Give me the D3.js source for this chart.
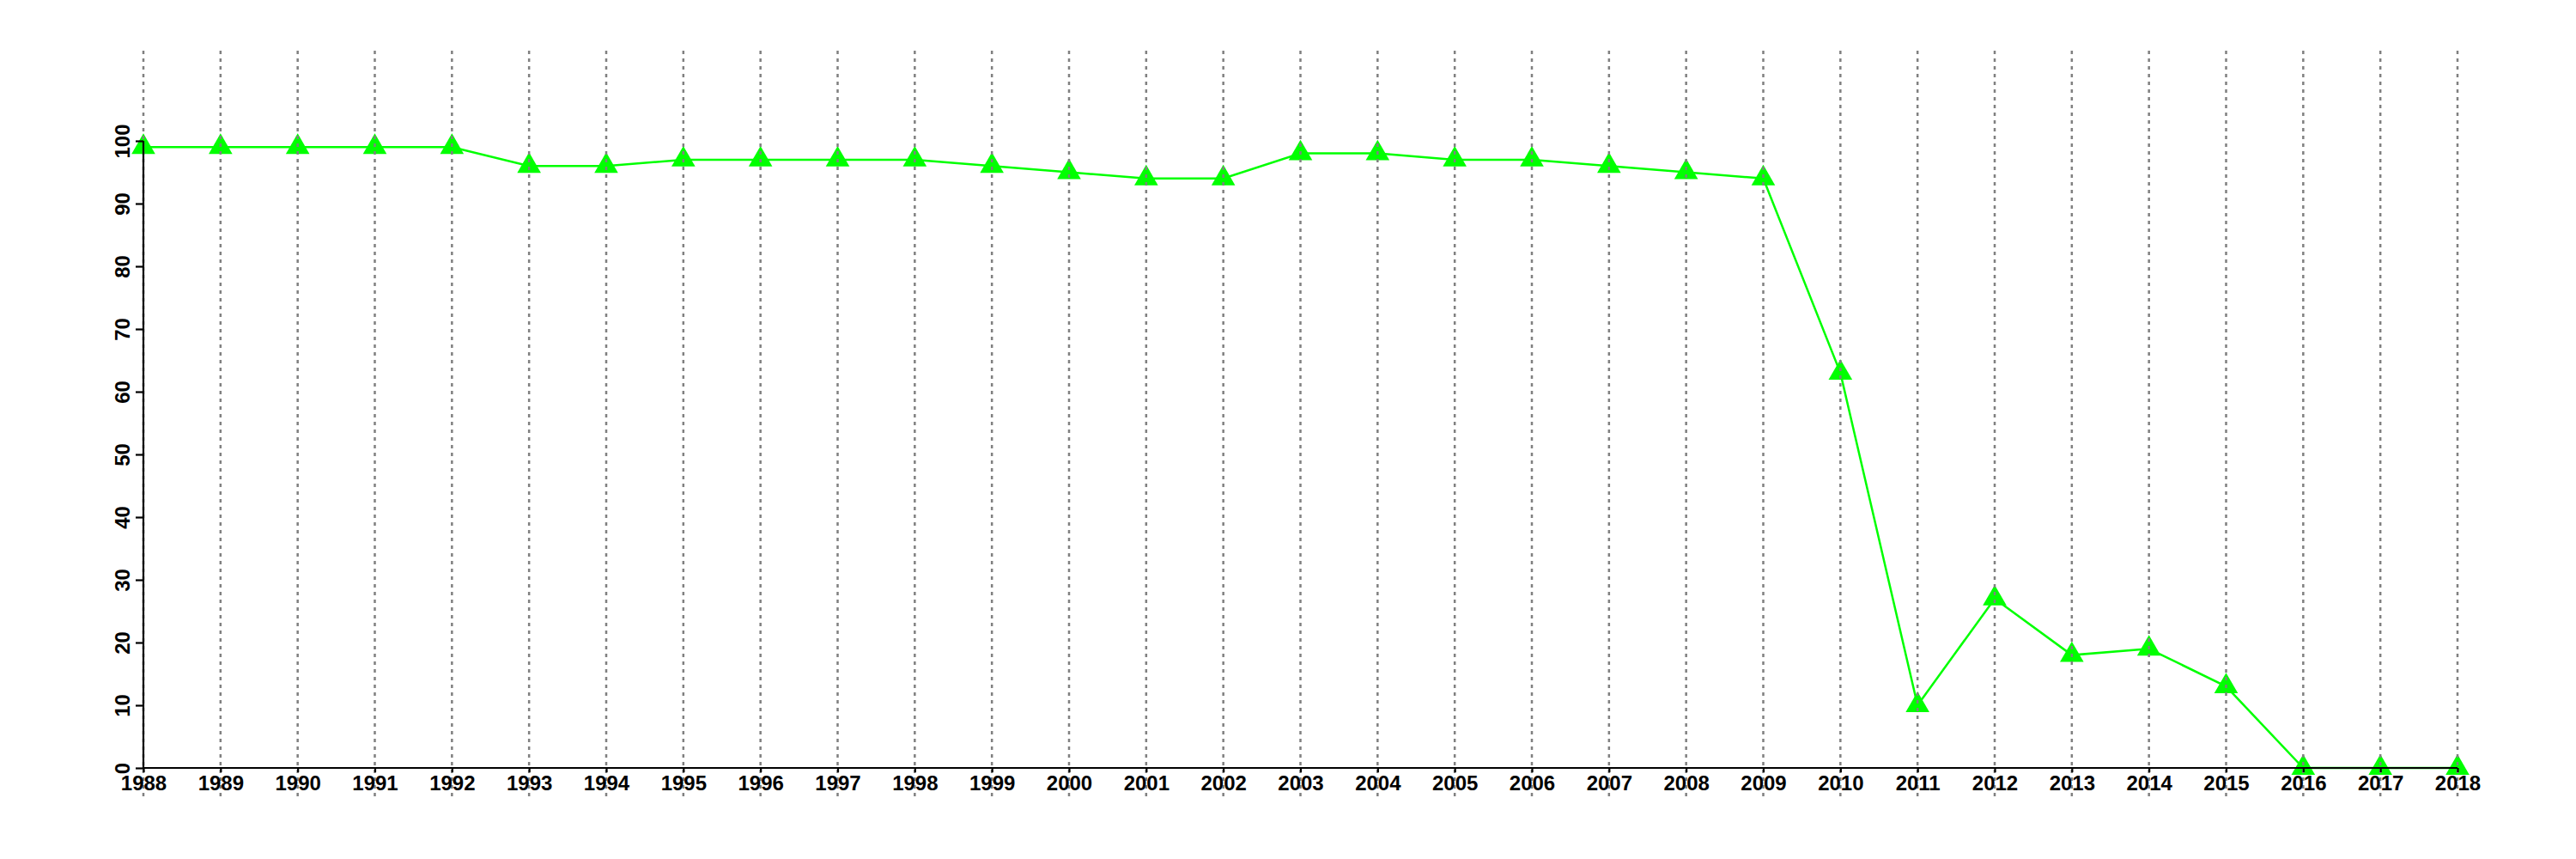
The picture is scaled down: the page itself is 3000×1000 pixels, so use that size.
<!DOCTYPE html>
<html>
<head>
<meta charset="utf-8">
<script src="https://cdn.jsdelivr.net/npm/d3@7"></script>
<style>
  body { margin: 0; background: #fff; }
  svg { display: block; }
</style>
</head>
<body>
<div id="chart"></div>
<script>
// years on the x axis
const years = d3.range(1988, 2019);
// values, one per year
const values = [99, 99, 99, 99, 99, 96, 96, 97, 97, 97, 97, 96, 95, 94, 94,
                98, 98, 97, 97, 96, 95, 94, 63, 10, 27, 18, 19, 13, 0, 0, 0];
const yTicks = [0, 10, 20, 30, 40, 50, 60, 70, 80, 90, 100];

const data = years.map((yr, i) => ({ year: yr, value: values[i] }));

const W = 3000, H = 1000;

const svg = d3.select("#chart")
    .append("svg")
    .attr("width", W)
    .attr("height", H);

// scales
const x = d3.scaleLinear()
    .domain([1988, 2018])
    .range([167, 2862]);

const y = d3.scaleLinear()
    .domain([0, 100])
    .range([894, 164]);

// line
const line = d3.line()
    .x(d => x(d.year))
    .y(d => y(d.value));

svg.append("path")
    .datum(data)
    .attr("fill", "none")
    .attr("stroke", "#00ff00")
    .attr("stroke-width", 2.5)
    .attr("d", line);

// triangles (centroid on the point)
const tri = d3.symbol().type(d3.symbolTriangle).size(330);
svg.selectAll(".pt")
    .data(data)
    .enter().append("path")
    .attr("class", "pt")
    .attr("d", tri)
    .attr("transform", d => `translate(${x(d.year)},${y(d.value)})`)
    .attr("fill", "#00ff00");

// dotted vertical grid at every year
svg.selectAll(".grid")
    .data(years)
    .enter().append("line")
    .attr("class", "grid")
    .attr("x1", d => x(d))
    .attr("x2", d => x(d))
    .attr("y1", 59)
    .attr("y2", 930)
    .attr("stroke", "#808080")
    .attr("stroke-width", 2.5)
    .attr("stroke-dasharray", "4,5");

// axes
const xAxis = svg.append("g")
    .attr("transform", `translate(0,${y(0)})`)
    .call(d3.axisBottom(x).tickValues(years).tickFormat(d3.format("d")).tickSize(5).tickPadding(4));

const yAxis = svg.append("g")
    .attr("transform", `translate(${x(1988)},0)`)
    .call(d3.axisLeft(y).tickValues(yTicks).tickSize(9));

[xAxis, yAxis].forEach(g => {
    g.select(".domain").attr("stroke", "#000").attr("stroke-width", 2.2);
    g.selectAll(".tick line").attr("stroke", "#000").attr("stroke-width", 2.2);
    g.selectAll("text")
        .attr("fill", "#000")
        .style("font-family", "'Liberation Sans', Arial, sans-serif")
        .style("font-size", "24px")
        .style("font-weight", "bold");
});

// remove the outer tick stubs d3 adds at domain ends
xAxis.select(".domain").attr("d", `M${x(1988)},0H${x(2018)}`);
yAxis.select(".domain").attr("d", `M0,${y(0)}V${y(100)}`);

// rotate y labels to read bottom-to-top
yAxis.selectAll(".tick text")
    .attr("x", null)
    .attr("dy", null)
    .attr("text-anchor", "middle")
    .attr("transform", "translate(-16,0) rotate(-90)");
</script>
</body>
</html>
